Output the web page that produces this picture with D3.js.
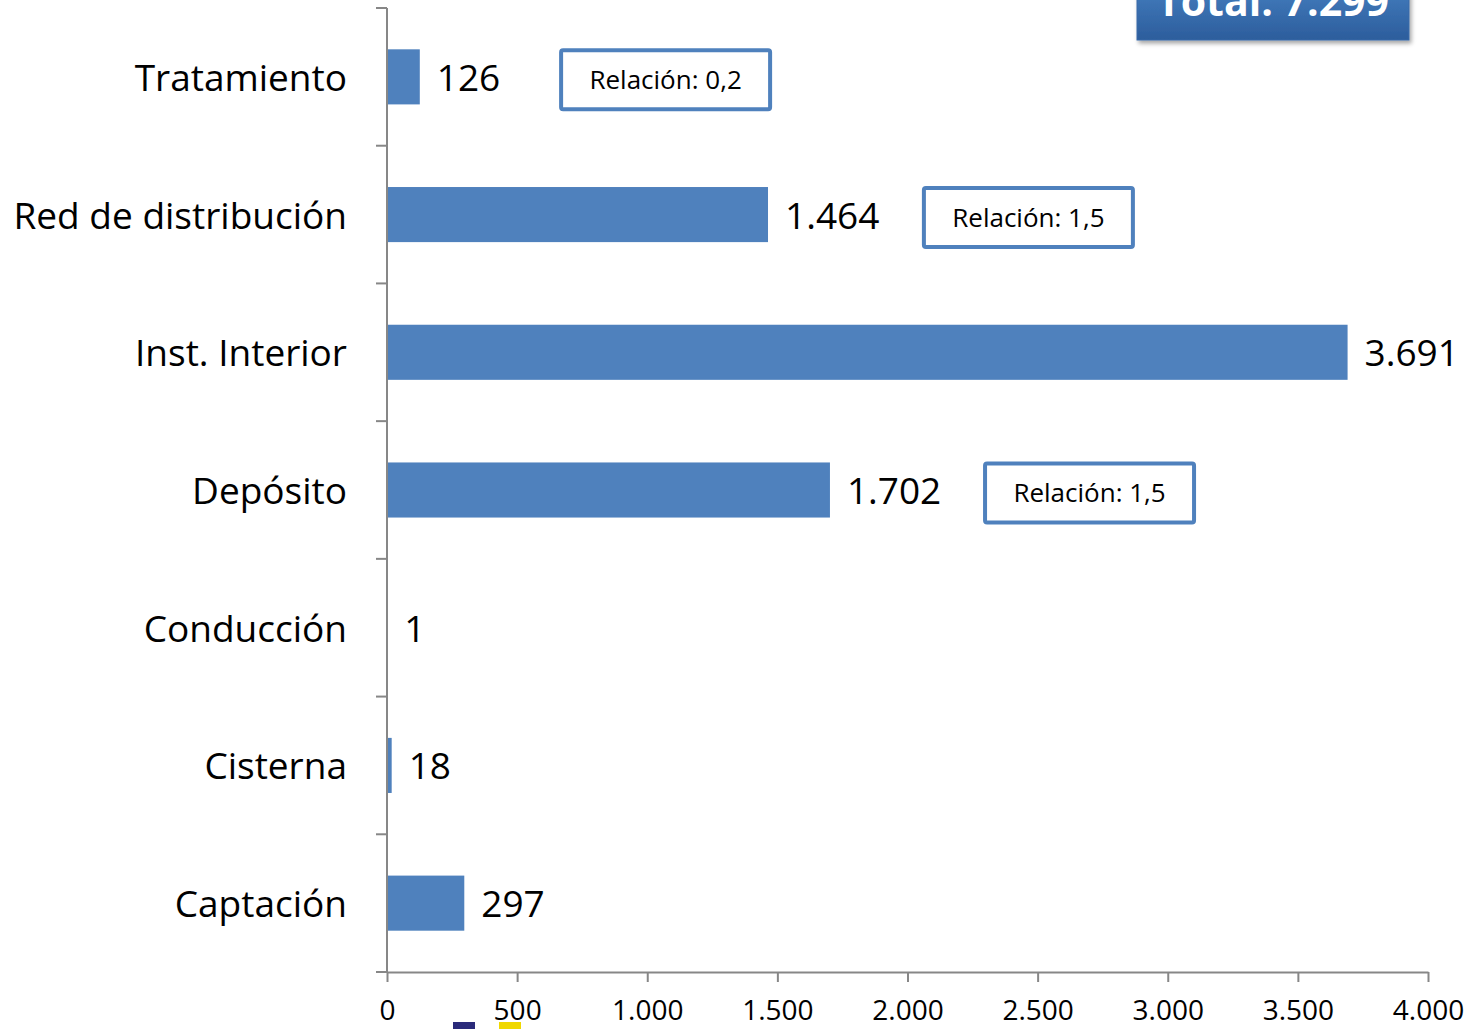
<!DOCTYPE html>
<html>
<head>
<meta charset="utf-8">
<script src="https://cdn.jsdelivr.net/npm/d3@7"></script>
<style>
  body { margin: 0; background: #fff; }
  svg { display: block; font-family: "Open Sans", "Noto Sans", sans-serif; }
</style>
</head>
<body>
<svg id="chart" width="1474" height="1029"></svg>
<script>
// categories top to bottom
const categories = ["Tratamiento", "Red de distribución", "Inst. Interior", "Depósito", "Conducción", "Cisterna", "Captación"];
const values = [126, 1464, 3691, 1702, 1, 18, 297];
const valueLabels = ["126", "1.464", "3.691", "1.702", "1", "18", "297"];
const xTicks = [0, 500, 1000, 1500, 2000, 2500, 3000, 3500, 4000];
// note boxes: left edge given in data units
const notes = [
  { cat: "Tratamiento", text: "Relación: 0,2", at: 669 },
  { cat: "Red de distribución", text: "Relación: 1,5", at: 2063 },
  { cat: "Depósito", text: "Relación: 1,5", at: 2298 }
];
const totalText = "Total: 7.299";

const svg = d3.select("#chart");
const blue = "#4f81bd";
const axisCol = "#878787";
const fmt = d => d3.format(",")(d).replace(/,/g, ".");

const x = d3.scaleLinear().domain([0, 4000]).range([387, 1428]);
const y = d3.scaleBand().domain(categories).range([8, 972]).paddingInner(0.6).paddingOuter(0.3);

// bars
svg.selectAll("rect.bar")
  .data(values)
  .enter().append("rect")
  .attr("class", "bar")
  .attr("x", x(0))
  .attr("y", (d, i) => y(categories[i]))
  .attr("width", d => x(d) - x(0))
  .attr("height", y.bandwidth())
  .attr("fill", blue);

// value labels
svg.selectAll("text.val")
  .data(values)
  .enter().append("text")
  .attr("class", "val")
  .attr("x", d => x(d) + 17)
  .attr("y", (d, i) => y(categories[i]) + y.bandwidth() / 2)
  .attr("dy", "0.38em")
  .attr("font-size", 37)
  .attr("fill", "#000")
  .text((d, i) => valueLabels[i]);

// y axis: line with ticks between categories
const yAxis = svg.append("g");
yAxis.append("line")
  .attr("x1", x(0)).attr("x2", x(0))
  .attr("y1", 8).attr("y2", 972)
  .attr("stroke", axisCol).attr("stroke-width", 2);
yAxis.selectAll("line.tk")
  .data(d3.range(categories.length + 1))
  .enter().append("line")
  .attr("x1", x(0) - 11).attr("x2", x(0))
  .attr("y1", i => 8 + i * (964 / categories.length))
  .attr("y2", i => 8 + i * (964 / categories.length))
  .attr("stroke", axisCol).attr("stroke-width", 2);
yAxis.selectAll("text")
  .data(categories)
  .enter().append("text")
  .attr("x", 347)
  .attr("y", d => y(d) + y.bandwidth() / 2)
  .attr("dy", "0.38em")
  .attr("text-anchor", "end")
  .attr("font-size", 37)
  .text(d => d);

// x axis
const xAxis = svg.append("g")
  .attr("transform", "translate(0,972)")
  .call(d3.axisBottom(x).tickValues(xTicks).tickFormat(fmt).tickSize(10).tickSizeOuter(0).tickPadding(18));
xAxis.select(".domain").attr("stroke", axisCol).attr("stroke-width", 2);
xAxis.selectAll(".tick line").attr("stroke", axisCol).attr("stroke-width", 2);
xAxis.selectAll(".tick text")
  .attr("font-size", 28)
  .attr("font-family", "'Open Sans', sans-serif")
  .attr("fill", "#000");

// relation note boxes
const boxW = 209, boxH = 59;
const g = svg.selectAll("g.note").data(notes).enter().append("g").attr("class", "note");
g.append("rect")
  .attr("x", d => x(d.at))
  .attr("y", d => y(d.cat) + y.bandwidth() / 2 - boxH / 2 + 3)
  .attr("width", boxW).attr("height", boxH)
  .attr("fill", "#fff").attr("stroke", blue).attr("stroke-width", 4).attr("rx", 2);
g.append("text")
  .attr("x", d => x(d.at) + boxW / 2)
  .attr("y", d => y(d.cat) + y.bandwidth() / 2 + 3)
  .attr("dy", "0.36em")
  .attr("text-anchor", "middle")
  .attr("font-size", 26)
  .text(d => d.text);

// total box, clipped at the top edge
const defs = svg.append("defs");
const grad = defs.append("linearGradient").attr("id", "tg").attr("x1", 0).attr("x2", 0).attr("y1", 0).attr("y2", 1);
grad.append("stop").attr("offset", "0%").attr("stop-color", "#4a86c8");
grad.append("stop").attr("offset", "100%").attr("stop-color", "#2c5d9c");
const filt = defs.append("filter").attr("id", "sh").attr("x", "-10%").attr("y", "-10%").attr("width", "130%").attr("height", "150%");
filt.append("feDropShadow").attr("dx", 2).attr("dy", 3).attr("stdDeviation", 2).attr("flood-color", "#000").attr("flood-opacity", 0.35);
svg.append("rect")
  .attr("x", 1137).attr("y", -30).attr("width", 272).attr("height", 70)
  .attr("fill", "url(#tg)").attr("stroke", "#3a6aa8").attr("stroke-width", 1)
  .attr("filter", "url(#sh)");
svg.append("text")
  .attr("x", 1273).attr("y", 16)
  .attr("text-anchor", "middle")
  .attr("font-size", 41).attr("font-weight", "bold")
  .attr("fill", "#fff")
  .text(totalText);

// fragment of a logo at the bottom edge
svg.append("rect").attr("x", 453).attr("y", 1022).attr("width", 22).attr("height", 8).attr("fill", "#2a2a7a");
svg.append("rect").attr("x", 499).attr("y", 1022).attr("width", 22).attr("height", 8).attr("fill", "#f0d800");
</script>
</body>
</html>
